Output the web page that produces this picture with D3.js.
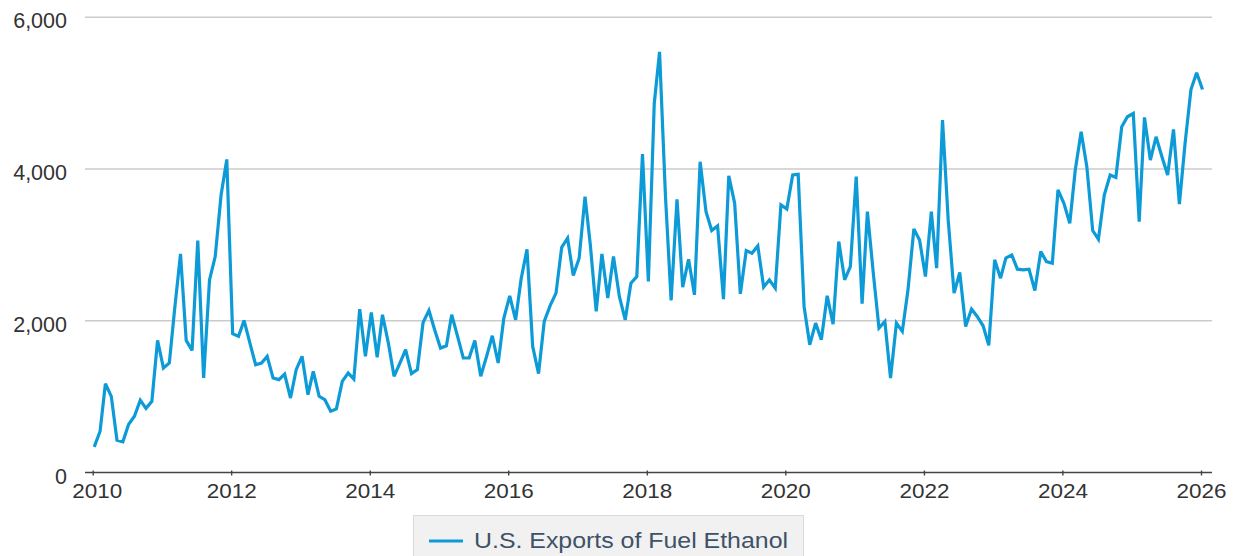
<html>
<head>
    <script src="https://d3js.org/d3.v7.min.js"></script>
    <style>
        body { margin: 0; background: #fff; }
        text { font-family: "Liberation Sans", Arial, sans-serif; }
    </style>
</head>

<body>
    <svg id="chart"></svg>

    <script>
        var Width = 1236;
        var Height = 556;

        // monthly exports, Jan 2010 .. Jan 2026 (thousand barrels)
        var startMonth = "2010-01";
        var exports = [
            338, 544, 1171, 1004, 425, 404, 632, 741, 952, 846, 939, 1741,
            1377, 1443, 2150, 2882, 1741, 1610, 3057, 1246, 2539, 2846, 3658, 4127,
            1829, 1794, 2004, 1706, 1421, 1443, 1531, 1246, 1224, 1298, 982, 1355,
            1531, 1026, 1333, 1004, 960, 807, 838, 1202, 1311, 1232, 2154, 1531,
            2110, 1518, 2079, 1706, 1268, 1443, 1618, 1303, 1355, 1978, 2136, 1882,
            1640, 1671, 2079, 1794, 1509, 1509, 1741, 1268, 1531, 1803, 1443, 2035,
            2329, 2013, 2550, 2943, 1662, 1303, 1991, 2200, 2364, 2969, 3088, 2596,
            2825, 3636, 3000, 2123, 2882, 2298, 2846, 2320, 2013, 2496, 2583, 4197,
            2518, 4864, 5544, 3650, 2268, 3601, 2443, 2811, 2342, 4096, 3439, 3189,
            3250, 2285, 3912, 3548, 2355, 2925, 2890, 2987, 2443, 2539, 2430, 3526,
            3474, 3921, 3930, 2189, 1684, 1969, 1750, 2329, 1956, 3044, 2539, 2715,
            3899, 2224, 3439, 2627, 1904, 1991, 1246, 1969, 1860, 2408, 3211, 3066,
            2583, 3439, 2693, 4645, 3329, 2364, 2636, 1925, 2154, 2057, 1934, 1675,
            2803, 2561, 2825, 2868, 2680, 2671, 2680, 2399, 2912, 2781, 2759, 3724,
            3548, 3285, 3987, 4491, 4031, 3189, 3075, 3658, 3921, 3890, 4557, 4689,
            4732, 3307, 4680, 4118, 4425, 4162, 3921, 4522, 3539, 4338, 5048, 5268,
            5048
        ];
        var yTicks = [0, 2000, 4000, 6000];
        var xTickYears = [2010, 2012, 2014, 2016, 2018, 2020, 2022, 2024, 2026];
        var seriesName = "U.S. Exports of Fuel Ethanol";

        var blue = "#0d9bd8";

        var t0 = d3.timeParse("%Y-%m")(startMonth);
        var data = exports.map(function(v, i) {
            return { date: d3.timeDay.offset(d3.timeMonth.offset(t0, i), 8), value: v };
        });

        var x = d3.scaleTime()
            .domain([new Date(2010, 0, 1), new Date(2026, 0, 1)])
            .range([92.7, 1201]);
        var y = d3.scaleLinear()
            .domain([0, 6000])
            .range([472.5, 17.3]);

        var svg = d3.select("#chart")
            .attr("width", Width)
            .attr("height", Height);

        // horizontal grid
        svg.append("g").selectAll("line")
            .data(yTicks.filter(function(d) { return d > 0; }))
            .enter().append("line")
                .attr("x1", 85).attr("x2", 1212)
                .attr("y1", function(d) { return y(d); })
                .attr("y2", function(d) { return y(d); })
                .attr("stroke", "#cbcbcb")
                .attr("stroke-width", 1.6);

        // y labels
        svg.append("g").selectAll("text")
            .data(yTicks)
            .enter().append("text")
                .attr("x", 67)
                .attr("y", function(d) { return y(d) + 11; })
                .attr("text-anchor", "end")
                .attr("font-size", 21.5)
                .attr("fill", "#333")
                .text(d3.format(","));

        // x axis
        var xAxis = d3.axisBottom(x)
            .tickValues(xTickYears.map(function(yr) { return new Date(yr, 0, 1); }))
            .tickFormat(d3.timeFormat("%Y"))
            .tickSize(4)
            .tickSizeOuter(0);

        var gx = svg.append("g")
            .attr("transform", "translate(0," + y(0) + ")")
            .call(xAxis);
        gx.select(".domain").remove();
        gx.insert("line", ":first-child")
            .attr("x1", 85).attr("x2", 1212)
            .attr("stroke", "#444").attr("stroke-width", 1.6);
        gx.selectAll(".tick line")
            .attr("y1", -2).attr("y2", 3)
            .attr("stroke", "#444").attr("stroke-width", 1.4);
        gx.selectAll(".tick text")
            .attr("y", 25.5).attr("dy", null)
            .attr("font-size", 21)
            .attr("font-family", "Liberation Sans, Arial, sans-serif")
            .attr("fill", "#333")
            .attr("textLength", 50)
            .attr("lengthAdjust", "spacingAndGlyphs");
        gx.select(".tick text").attr("dx", 4);

        // series line
        var line = d3.line()
            .x(function(d) { return x(d.date); })
            .y(function(d) { return y(d.value); });

        svg.append("path")
            .datum(data)
            .attr("d", line)
            .attr("fill", "none")
            .attr("stroke", blue)
            .attr("stroke-width", 3.2)
            .attr("stroke-linejoin", "miter")
            .attr("stroke-miterlimit", 3);

        // legend
        var legend = svg.append("g");
        legend.append("rect")
            .attr("x", 413.5).attr("y", 515.5)
            .attr("width", 390).attr("height", 50)
            .attr("fill", "#f1f1f1")
            .attr("stroke", "#dadada");
        legend.append("line")
            .attr("x1", 429).attr("x2", 463)
            .attr("y1", 541).attr("y2", 541)
            .attr("stroke", blue).attr("stroke-width", 3.2);
        legend.append("text")
            .attr("x", 474).attr("y", 548)
            .attr("font-size", 22.5)
            .attr("fill", "#3e5267")
            .attr("textLength", 314)
            .attr("lengthAdjust", "spacingAndGlyphs")
            .text(seriesName);
    </script>
</body>
</html>
